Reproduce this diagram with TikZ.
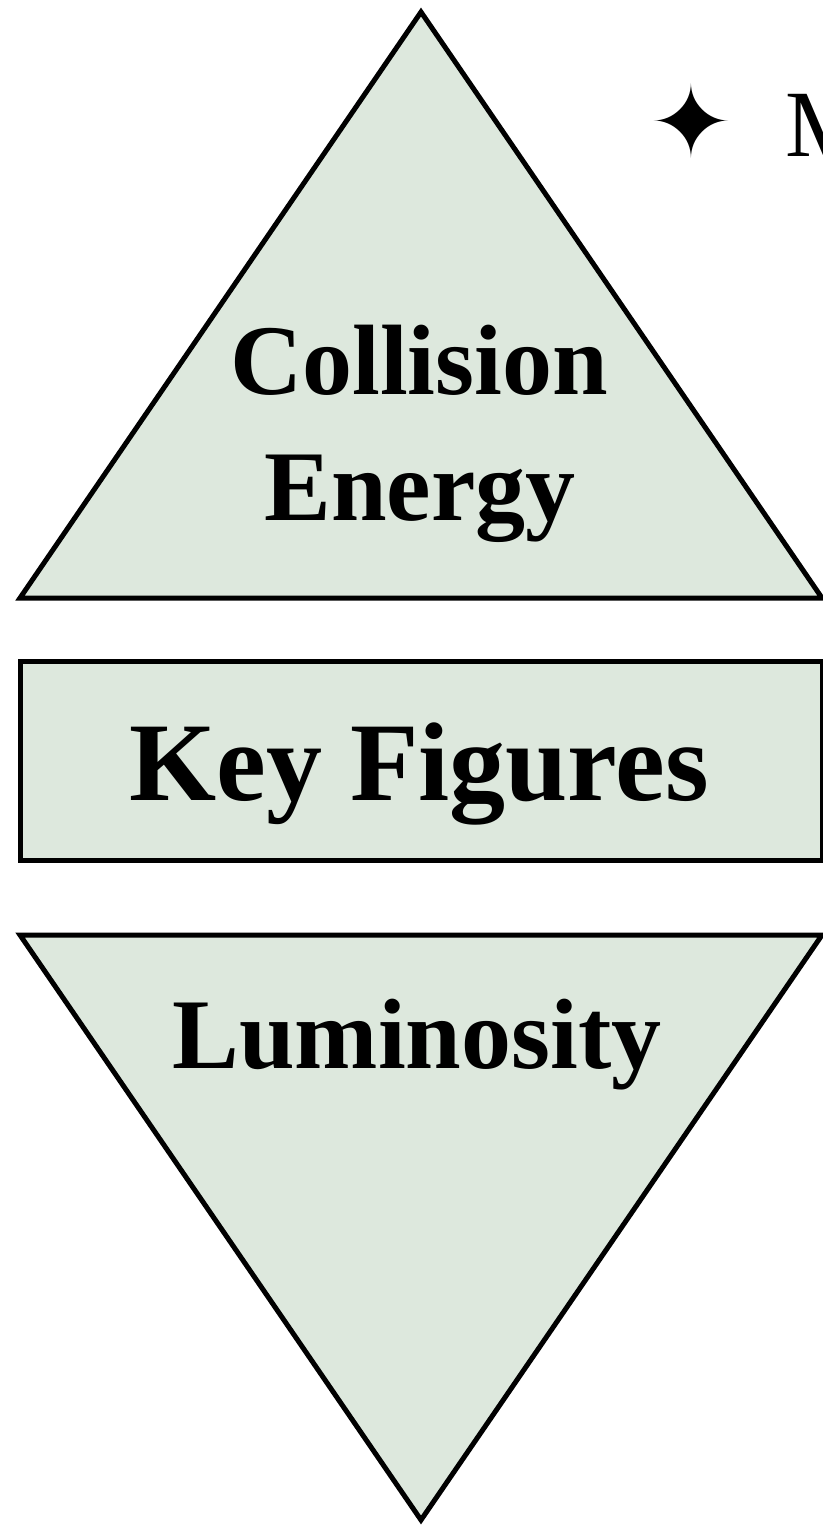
\documentclass[tikz,border=0pt]{standalone}
\usepackage{fontspec}
\setmainfont{Liberation Serif}
\newfontfamily\symfont{DejaVu Sans}
\definecolor{pale}{HTML}{DDE8DD}
\tikzset{
  shapebox/.style={draw=black, fill=pale, line width=5pt, line join=miter},
  lbl/.style={font=\bfseries, inner sep=0pt, anchor=base},
  midfont/.style={font=\bfseries\fontsize{100}{104}\selectfont},
}
\begin{document}
\begin{tikzpicture}[x=1pt,y=-1pt]
\useasboundingbox (0,0) rectangle (822,1526);
% top triangle
\coordinate (t1) at (421,12);
\coordinate (t2) at (20,598);
\coordinate (t3) at (822,598);
\draw[shapebox] (t1) -- (t2) -- (t3) -- cycle;
% box
\coordinate (b1) at (20,661);
\coordinate (b2) at (822,860);
\draw[shapebox] (b1) rectangle (b2);
% bottom triangle
\coordinate (u1) at (20,935);
\coordinate (u2) at (822,935);
\coordinate (u3) at (421,1520);
\draw[shapebox] (u1) -- (u2) -- (u3) -- cycle;
% labels
\node[lbl, midfont] (ce1) at (419,394) {Collision};
\node[lbl, midfont] (ce2) at (420,520) {Energy};
\node[lbl, font=\bfseries\fontsize{112}{120}\selectfont] (kf) at (419,800) {Key Figures};
\node[lbl, midfont] (lum) at (417,1068) {Luminosity};
% star bullet and clipped text
\node[inner sep=0pt, anchor=center, font=\symfont\fontsize{100}{100}\selectfont] (star) at (691,121) {✦};
\node[inner sep=0pt, anchor=base west, font=\fontsize{95}{100}\selectfont] (mtext) at (785,156) {M};
\end{tikzpicture}
\end{document}
